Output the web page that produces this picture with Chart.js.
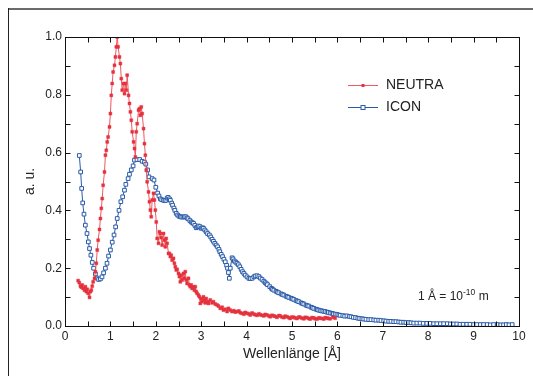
<!DOCTYPE html>
<html><head><meta charset="utf-8">
<script src="https://cdn.jsdelivr.net/npm/chart.js@4/dist/chart.umd.min.js"></script>
<style>html,body{margin:0;padding:0;background:#fff;}#wrap{position:relative;width:533px;height:376px;}</style>
</head><body><div id="wrap"><canvas id="c" width="533" height="376"></canvas></div>
<script>
const seriesNames = ['NEUTRA', 'ICON'];
const neutraX = [0.29,0.315,0.34,0.36,0.38,0.40,0.43,0.45,0.47,0.49,0.51,0.54,0.56,0.58,0.60,0.62,0.65,0.67,0.69,0.71,0.73,0.76,0.78,0.80,0.82,0.84,0.87,0.89,0.91,0.93,0.95,0.98,1.00,1.02,1.04,1.06,1.09,1.11,1.13,1.15,1.17,1.20,1.22,1.24,1.26,1.29,1.31,1.33,1.35,1.37,1.40,1.42,1.44,1.46,1.48,1.51,1.53,1.55,1.57,1.59,1.62,1.64,1.66,1.68,1.70,1.73,1.75,1.77,1.79,1.81,1.84,1.86,1.88,1.90,1.92,1.95,1.97,1.99,2.01,2.03,2.06,2.08,2.10,2.12,2.14,2.17,2.19,2.21,2.23,2.25,2.28,2.30,2.32,2.34,2.36,2.39,2.41,2.43,2.45,2.47,2.50,2.52,2.54,2.56,2.58,2.61,2.63,2.65,2.67,2.69,2.72,2.74,2.76,2.78,2.80,2.83,2.85,2.87,2.89,2.91,2.94,2.96,2.98,3.00,3.02,3.05,3.07,3.09,3.11,3.14,3.16,3.20,3.24,3.27,3.31,3.35,3.38,3.42,3.46,3.49,3.53,3.57,3.60,3.64,3.68,3.72,3.79,3.86,3.94,4.01,4.08,4.16,4.23,4.30,4.38,4.45,4.52,4.60,4.67,4.74,4.82,4.89,4.96,5.04,5.11,5.18,5.26,5.33,5.40,5.48,5.55,5.62,5.70,5.77,5.84,5.95,
  3.75,3.83,3.90,3.97,4.05,4.12,4.19,4.27,4.34,4.41,4.49,4.56,4.63,4.71,4.78,4.85,4.93,5.00,5.07,5.15,5.22,5.29,5.37,5.44,5.51,5.59,5.66,5.73,5.80,5.90];
const neutraY = [0.157,0.15,0.138,0.134,0.142,0.13,0.124,0.136,0.119,0.127,0.113,0.099,0.119,0.124,0.138,0.153,0.165,0.188,0.217,0.263,0.297,0.334,0.372,0.407,0.441,0.487,0.533,0.591,0.608,0.637,0.654,0.689,0.735,0.798,0.839,0.879,0.902,0.931,0.966,1.0,0.966,0.931,0.908,0.856,0.816,0.839,0.804,0.839,0.816,0.868,0.798,0.77,0.741,0.712,0.672,0.637,0.614,0.585,0.672,0.70,0.747,0.752,0.729,0.758,0.735,0.683,0.631,0.591,0.539,0.499,0.464,0.43,0.401,0.378,0.436,0.459,0.436,0.401,0.36,0.303,0.286,0.326,0.32,0.306,0.28,0.32,0.297,0.274,0.303,0.286,0.251,0.251,0.24,0.245,0.228,0.234,0.217,0.205,0.194,0.196,0.182,0.171,0.153,0.176,0.159,0.182,0.165,0.188,0.159,0.147,0.165,0.142,0.136,0.142,0.13,0.136,0.124,0.136,0.119,0.113,0.107,0.101,0.078,0.095,0.084,0.101,0.09,0.08,0.095,0.084,0.078,0.09,0.08,0.084,0.076,0.073,0.069,0.061,0.065,0.055,0.058,0.05,0.061,0.055,0.05,0.053,0.05,0.046,0.041,0.044,0.038,0.041,0.037,0.039,0.035,0.038,0.032,0.035,0.03,0.035,0.029,0.032,0.026,0.03,0.026,0.03,0.025,0.029,0.024,0.028,0.024,0.027,0.024,0.028,0.025,0.027,
  0.048,0.052,0.044,0.047,0.042,0.045,0.039,0.042,0.037,0.040,0.035,0.037,0.033,0.036,0.031,0.034,0.029,0.031,0.028,0.031,0.027,0.030,0.026,0.029,0.025,0.028,0.026,0.029,0.026,0.030];
const iconX = [0.315,0.345,0.367,0.39,0.418,0.448,0.485,0.514,0.54,0.57,0.60,0.63,0.67,0.70,0.74,0.78,0.815,0.85,0.89,0.925,0.96,1.00,1.04,1.08,1.115,1.15,1.19,1.23,1.27,1.31,1.34,1.39,1.42,1.46,1.50,1.53,1.585,1.645,1.70,1.75,1.78,1.82,1.85,1.92,1.96,2.00,2.04,2.10,2.17,2.22,2.27,2.32,2.37,2.42,2.48,2.54,2.60,2.66,2.71,2.78,2.83,2.89,2.94,3.00,3.05,3.11,3.18,3.24,3.30,3.36,3.41,3.47,3.53,3.58,3.62,3.64,3.68,3.73,3.79,3.85,3.91,3.97,4.05,4.12,4.19,4.27,4.34,4.41,4.46,4.51,4.55,4.60,4.65,4.71,4.76,4.82,4.87,4.93,4.98,5.04,5.09,5.15,5.20,5.26,5.31,5.37,5.42,5.48,5.53,5.59,5.66,5.73,5.80,5.88,5.95,6.03,6.12,6.21,6.30,6.40,6.49,6.58,6.69,6.80,6.91,7.02,7.13,7.24,7.35,7.46,7.57,7.68,7.82,7.97,8.12,8.27,8.42,8.56,8.70,8.85,9.00,9.15,9.30,9.44,9.60,9.72,9.85,
  2.07,2.13,2.20,2.25,2.30,2.35,2.40,2.45,2.51,2.57,2.63,2.69,2.75,2.81,2.86,2.92,2.97,3.03,3.08,3.14,3.21,3.27,3.33,3.39,3.44,3.50,3.56,3.60,
  3.70,3.76,3.82,3.88,3.94,4.01,4.08,4.16,4.23,4.30,
  4.38,4.44,4.57,4.68,4.79,4.90,5.01,5.12,5.23,5.34,5.45,5.56,5.63,5.70,5.77,5.84,5.91,5.99,
  6.06,6.16,6.26,6.35,6.45,6.54,6.63,6.74,6.85,6.96,7.07,7.18,7.29,7.40,7.51,7.62,7.75,7.89,8.04,8.19,8.34,8.49,8.63,8.77,8.92,9.07,9.22,9.37,9.52,9.66,9.78];
const iconY = [0.59,0.533,0.476,0.426,0.387,0.349,0.32,0.291,0.268,0.245,0.22,0.20,0.18,0.166,0.161,0.163,0.17,0.184,0.20,0.217,0.242,0.263,0.29,0.315,0.343,0.372,0.40,0.43,0.447,0.47,0.49,0.51,0.525,0.54,0.554,0.574,0.576,0.576,0.57,0.567,0.56,0.54,0.516,0.51,0.505,0.48,0.46,0.44,0.435,0.435,0.445,0.435,0.418,0.40,0.384,0.378,0.377,0.378,0.371,0.36,0.355,0.34,0.346,0.338,0.338,0.326,0.315,0.30,0.286,0.274,0.257,0.24,0.222,0.20,0.165,0.20,0.236,0.225,0.217,0.205,0.188,0.176,0.165,0.165,0.173,0.171,0.161,0.15,0.143,0.136,0.130,0.124,0.120,0.115,0.111,0.107,0.103,0.099,0.096,0.092,0.088,0.084,0.080,0.076,0.072,0.069,0.065,0.061,0.058,0.055,0.052,0.05,0.047,0.044,0.041,0.038,0.036,0.035,0.032,0.029,0.026,0.024,0.022,0.021,0.020,0.018,0.016,0.015,0.014,0.013,0.012,0.010,0.010,0.009,0.008,0.008,0.008,0.007,0.006,0.006,0.005,0.005,0.005,0.005,0.004,0.005,0.005,
  0.45,0.437,0.434,0.442,0.44,0.425,0.408,0.39,0.38,0.377,0.378,0.374,0.365,0.357,0.348,0.343,0.344,0.34,0.332,0.32,0.308,0.293,0.28,0.265,0.248,0.231,0.21,0.185,
  0.232,0.221,0.212,0.196,0.182,0.170,0.164,0.170,0.174,0.166,
  0.155,0.146,0.127,0.117,0.109,0.101,0.094,0.086,0.078,0.070,0.063,0.056,0.053,0.051,0.048,0.045,0.042,0.040,
  0.037,0.034,0.033,0.030,0.027,0.025,0.023,0.022,0.020,0.019,0.017,0.016,0.015,0.013,0.012,0.011,0.010,0.009,0.009,0.008,0.008,0.007,0.007,0.006,0.006,0.005,0.005,0.004,0.005,0.004,0.004];
const xTickValues = [0,1,2,3,4,5,6,7,8,9,10];
const yTickValues = [0,0.2,0.4,0.6,0.8,1.0];
const annotationText = ['1 Å = 10', '-10', ' m'];

const RED = '#e5323e', RED_LINE = '#ec5a63', BLUE = '#2a5ba8';
const FONT = '"Liberation Sans", Arial, Helvetica, sans-serif';

const toPts = (xs, ys) => xs.map((x, i) => ({x, y: ys[i]})).sort((a, b) => a.x - b.x);

const deco = {
  id: 'deco',
  beforeDraw(chart) {
    const c = chart.ctx;
    c.save();
    c.fillStyle = '#fff'; c.fillRect(0, 0, chart.width, chart.height);
    c.strokeStyle = '#6b6b6b'; c.lineWidth = 2;
    c.beginPath(); c.moveTo(8, 9); c.lineTo(chart.width, 9); c.stroke();
    c.strokeStyle = '#222'; c.lineWidth = 1;
    c.beginPath(); c.moveTo(8.5, 8); c.lineTo(8.5, chart.height); c.stroke();
    c.restore();
  },
  afterDraw(chart) {
    const {ctx, chartArea: a, scales: {x, y}} = chart;
    ctx.save();
    ctx.strokeStyle = '#111'; ctx.lineWidth = 1;
    const L = Math.round(a.left) + 0.5, R = Math.round(a.right) + 0.5, T = Math.round(a.top) + 0.5, B = Math.round(a.bottom) + 0.5;
    ctx.strokeRect(L, T, R - L, B - T);
    ctx.beginPath();
    for (let i = 0; i <= 20; i++) {
      const px = Math.round(x.getPixelForValue(i * 0.5)) + 0.5;
      ctx.moveTo(px, B); ctx.lineTo(px, B - 5);
      ctx.moveTo(px, T); ctx.lineTo(px, T + 5);
    }
    for (let i = 0; i <= 10; i++) {
      const py = Math.round(y.getPixelForValue(i * 0.1)) + 0.5;
      ctx.moveTo(L, py); ctx.lineTo(L + 5, py);
      ctx.moveTo(R, py); ctx.lineTo(R - 5, py);
    }
    ctx.stroke();
    chart.data.datasets.forEach((ds, i) => {
      const ly = 85.5 + 22 * i;
      ctx.strokeStyle = i === 0 ? RED_LINE : BLUE; ctx.lineWidth = 1;
      ctx.beginPath(); ctx.moveTo(348, ly); ctx.lineTo(378, ly); ctx.stroke();
      if (i === 0) { ctx.fillStyle = RED; ctx.fillRect(361.5, ly - 1.5, 3, 3); }
      else { ctx.fillStyle = '#fff'; ctx.fillRect(361, ly - 2, 4, 4); ctx.strokeStyle = BLUE; ctx.strokeRect(361, ly - 2, 4, 4); }
      ctx.fillStyle = '#222'; ctx.font = '14px ' + FONT; ctx.textBaseline = 'middle'; ctx.textAlign = 'left';
      ctx.fillText(ds.label, 386, ly);
    });
    ctx.fillStyle = '#222'; ctx.textBaseline = 'alphabetic';
    let ax = 418;
    ctx.font = '12px ' + FONT; ctx.fillText(annotationText[0], ax, 300); ax += ctx.measureText(annotationText[0]).width;
    ctx.font = '8.5px ' + FONT; ctx.fillText(annotationText[1], ax, 295); ax += ctx.measureText(annotationText[1]).width;
    ctx.font = '12px ' + FONT; ctx.fillText(annotationText[2], ax, 300);
    ctx.restore();
  }
};

new Chart(document.getElementById('c'), {
  type: 'scatter',
  data: {
    datasets: [
      {label: seriesNames[0], data: toPts(neutraX, neutraY), showLine: true, borderColor: RED_LINE, borderWidth: 1,
       pointStyle: 'rect', pointRadius: 2.1, pointBackgroundColor: RED, pointBorderColor: 'rgba(229,50,62,0.55)', pointBorderWidth: 0.8, tension: 0},
      {label: seriesNames[1], data: toPts(iconX, iconY), showLine: true, borderColor: BLUE, borderWidth: 1,
       pointStyle: 'rect', pointRadius: 2.6, pointBackgroundColor: '#fff', pointBorderColor: BLUE, pointBorderWidth: 1, tension: 0}
    ]
  },
  options: {
    responsive: false, animation: false, devicePixelRatio: 1,
    layout: {padding: {left: 0, top: 37, right: 14, bottom: 0}},
    plugins: {legend: {display: false}, tooltip: {enabled: false}},
    scales: {
      x: {
        type: 'linear', min: 0, max: 10,
        grid: {display: false, drawTicks: false}, border: {display: false},
        afterBuildTicks: s => { s.ticks = xTickValues.map(v => ({value: v})); },
        afterFit: s => { s.height = 50; },
        ticks: {padding: 3, color: '#222', font: {family: FONT, size: 12}, maxRotation: 0, callback: v => String(v)},
        title: {display: true, text: 'Wellenlänge [Å]', color: '#222', font: {family: FONT, size: 14}, padding: {top: 0, bottom: 13.6}}
      },
      y: {
        type: 'linear', min: 0, max: 1,
        grid: {display: false, drawTicks: false}, border: {display: false},
        afterBuildTicks: s => { s.ticks = yTickValues.map(v => ({value: v})); },
        afterFit: s => { s.width = 65; },
        ticks: {padding: 3, color: '#222', font: {family: FONT, size: 12}, callback: v => Number(v).toFixed(1)},
        title: {display: true, text: 'a. u.', color: '#222', font: {family: FONT, size: 14}, padding: {top: 22, bottom: 0}}
      }
    }
  },
  plugins: [deco]
});
</script></body></html>
